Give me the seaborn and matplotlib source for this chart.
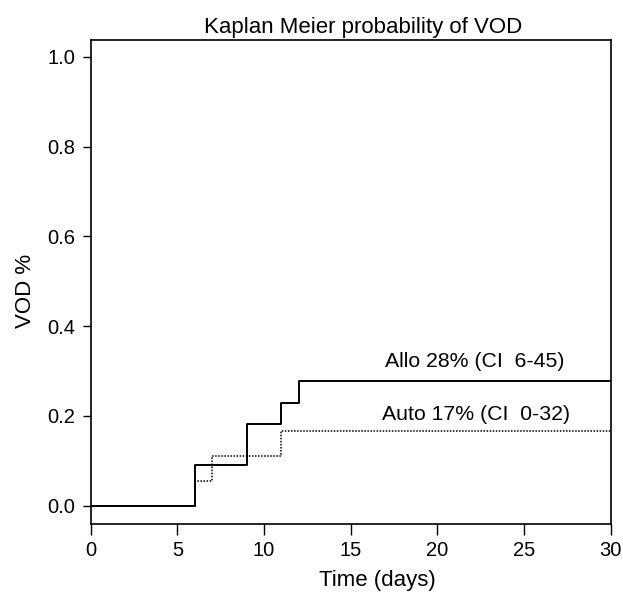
import numpy as np
import pandas as pd
import matplotlib
matplotlib.use('Agg')
import matplotlib.pyplot as plt
import seaborn as sns

# Kaplan Meier step data
allo_days = [0, 6, 9, 11, 12, 30]
allo_prob = [0.0, 0.091, 0.182, 0.230, 0.277, 0.277]
auto_days = [0, 6, 7, 11, 30]
auto_prob = [0.0, 0.056, 0.111, 0.166, 0.166]

allo_label = 'Allo 28% (CI  6-45)'
auto_label = 'Auto 17% (CI  0-32)'

sns.set_style('ticks')
plt.rcParams['font.family'] = ['Liberation Sans', 'DejaVu Sans']
plt.rcParams['text.color'] = 'black'
plt.rcParams['axes.labelcolor'] = 'black'

fig = plt.figure(figsize=(6.23, 5.92), dpi=100)
ax = fig.add_axes([0.1456, 0.1145, 0.8347, 0.8185])

sns.lineplot(x=allo_days, y=allo_prob, drawstyle='steps-post', color='black',
             linewidth=1.4, sort=False, ax=ax)
sns.lineplot(x=auto_days, y=auto_prob, drawstyle='steps-post', color='black',
             linewidth=1.1, linestyle=(0, (1, 1)), sort=False, ax=ax)

ax.text(22.15, 0.3216, allo_label, ha='center', va='center', fontsize=15.3)
ax.text(22.23, 0.204, auto_label, ha='center', va='center', fontsize=15.3)

ax.set_xlim(0, 30)
ax.set_ylim(-0.041, 1.038)
ax.set_xticks(np.arange(0, 31, 5))
ax.set_yticks(np.arange(0, 1.01, 0.2))
ax.set_yticklabels([f'{v:.1f}' for v in np.arange(0, 1.01, 0.2)])
ax.tick_params(axis='both', direction='out', width=1, colors='black', labelsize=14.5)
ax.tick_params(axis='x', length=8, pad=4)
ax.tick_params(axis='y', length=6, pad=5)
for s in ax.spines.values():
    s.set_visible(True)
    s.set_color('black')
    s.set_linewidth(1.2)

ax.set_title('Kaplan Meier probability of VOD', fontsize=16, pad=5, x=0.524)
ax.set_xlabel('Time (days)', fontsize=16)
ax.xaxis.set_label_coords(0.551, -0.095)
ax.set_ylabel('VOD %', fontsize=16)
ax.yaxis.set_label_coords(-0.105, 0.482)

fig.savefig('out.png', dpi=100)
